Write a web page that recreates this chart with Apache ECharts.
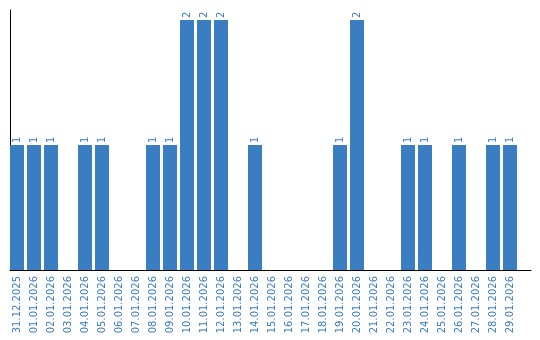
<!DOCTYPE html>
<html><head><meta charset="utf-8">
<script src="https://cdn.jsdelivr.net/npm/echarts@6/dist/echarts.min.js"></script>
<style>html,body{margin:0;padding:0;background:#fff}#c{width:540px;height:340px}</style>
</head><body><div id="c"></div>
<script>
const categories = ['31.12.2025','01.01.2026','02.01.2026','03.01.2026','04.01.2026','05.01.2026','06.01.2026','07.01.2026','08.01.2026','09.01.2026','10.01.2026','11.01.2026','12.01.2026','13.01.2026','14.01.2026','15.01.2026','16.01.2026','17.01.2026','18.01.2026','19.01.2026','20.01.2026','21.01.2026','22.01.2026','23.01.2026','24.01.2026','25.01.2026','26.01.2026','27.01.2026','28.01.2026','29.01.2026'];
const values = [1,1,1,0,1,1,0,0,1,1,2,2,2,0,1,0,0,0,0,1,2,0,0,1,1,0,1,0,1,1];
const blue = '#3a7dc1';
const chart = echarts.init(document.getElementById('c'), null, {renderer:'canvas'});
chart.setOption({
  animation:false,
  grid:[{left:8.5, top:10, width:510, height:260, containLabel:false},
        {left:10, top:10, width:521, height:260, containLabel:false}],
  xAxis:[{type:'category', data:categories, gridIndex:0,
    axisLine:{show:false},
    axisTick:{show:false},
    axisLabel:{rotate:90, margin:6, color:blue, fontSize:10, fontFamily:'DejaVu Sans', interval:0}},
    {type:'value', gridIndex:1, min:0, max:1,
    axisLine:{show:true, lineStyle:{color:'#000', width:1}},
    axisTick:{show:false}, axisLabel:{show:false}, splitLine:{show:false}}],
  yAxis:[{type:'value', min:0, max:2.08, offset:-1.5, gridIndex:0,
    axisLine:{show:true, lineStyle:{color:'#000', width:1}},
    axisTick:{show:false}, axisLabel:{show:false}, splitLine:{show:false}},
    {type:'value', gridIndex:1, min:0, max:1, show:false}],
  series:[{type:'bar', xAxisIndex:0, yAxisIndex:0, data:values.map(v=>v===0?null:v), barWidth:14, itemStyle:{color:blue},
    label:{show:true, position:'top', distance:2, rotate:90, align:'left', verticalAlign:'middle',
      color:blue, fontSize:10, fontFamily:'DejaVu Sans'}}]
});
</script></body></html>
